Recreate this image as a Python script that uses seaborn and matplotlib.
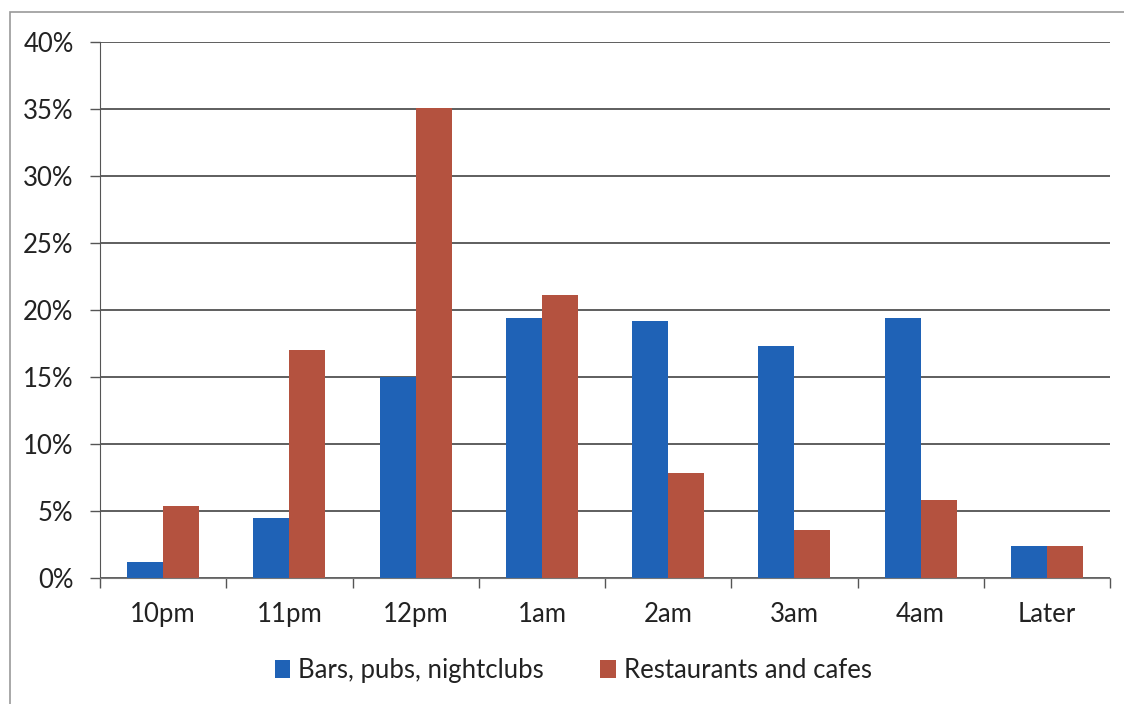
import pandas as pd
import matplotlib
matplotlib.use('Agg')
import matplotlib.pyplot as plt
import seaborn as sns
from matplotlib.patches import Rectangle
from matplotlib.ticker import FuncFormatter

# Veriler (grafikten okunan yüzdeler)
times = ['10pm', '11pm', '12pm', '1am', '2am', '3am', '4am', 'Later']
bars_pubs = [1.2, 4.5, 15.0, 19.4, 19.2, 17.3, 19.4, 2.4]
restaurants = [5.4, 17.0, 35.1, 21.1, 7.8, 3.6, 5.8, 2.4]
series_names = ['Bars, pubs, nightclubs', 'Restaurants and cafes']
colors = ['#1F62B6', '#B4523F']

df = pd.DataFrame({
    'time': times * 2,
    'value': bars_pubs + restaurants,
    'venue': [series_names[0]] * len(times) + [series_names[1]] * len(times),
})

sns.set_style('white')
plt.rcParams['font.family'] = ['Lato', 'DejaVu Sans']
fs = 18.5

fig = plt.figure(figsize=(11.24, 7.04), dpi=100)
ax = fig.add_axes([100 / 1124, 1 - 578 / 704, 1010 / 1124, 536 / 704])

sns.barplot(data=df, x='time', y='value', hue='venue', palette=colors,
            width=0.57, ax=ax, saturation=1, legend=True, linewidth=0)

ax.set_ylim(0, 40)
ax.set_xlim(-0.5, len(times) - 0.5)
ax.set_yticks(range(0, 41, 5))
ax.yaxis.set_major_formatter(FuncFormatter(lambda v, p: f'{int(v)}%'))
ax.yaxis.grid(True, color='#333333', linewidth=1.1)
ax.set_axisbelow(True)
ax.tick_params(axis='y', labelsize=fs, length=7, width=1, color='#555555', pad=12,
               left=True, labelcolor='#222222')

# x ekseni: kategori sınırlarında tik, ortada etiket
ax.set_xticks([i - 0.5 for i in range(len(times) + 1)])
ax.set_xticklabels([''] * (len(times) + 1))
ax.set_xticks(range(len(times)), minor=True)
ax.set_xticklabels(times, minor=True)
ax.tick_params(axis='x', which='major', length=7, width=1, color='#555555', bottom=True)
ax.tick_params(axis='x', which='minor', length=0, labelsize=fs, pad=17, labelcolor='#222222')
ax.set_xlabel('')
ax.set_ylabel('')

for side in ['top', 'right']:
    ax.spines[side].set_visible(False)
ax.spines['left'].set_color('#555555')
ax.spines['bottom'].set_color('#777777')

handles, labels = ax.get_legend_handles_labels()
ax.get_legend().remove()
leg = fig.legend(handles, labels, loc='center', bbox_to_anchor=(0.51, 0.048), ncol=2,
                 frameon=False, fontsize=fs, handlelength=0.6, handleheight=0.7,
                 handletextpad=0.3, columnspacing=2.2)
for t in leg.get_texts():
    t.set_color('#222222')

# taranmış sayfa çerçevesi
fig.patches.append(Rectangle((10 / 1124, -0.02), 1.1, 1 - 12 / 704 + 0.02,
                             transform=fig.transFigure, fill=False,
                             edgecolor='#999999', linewidth=1.2))

fig.savefig('out.png', dpi=100)
